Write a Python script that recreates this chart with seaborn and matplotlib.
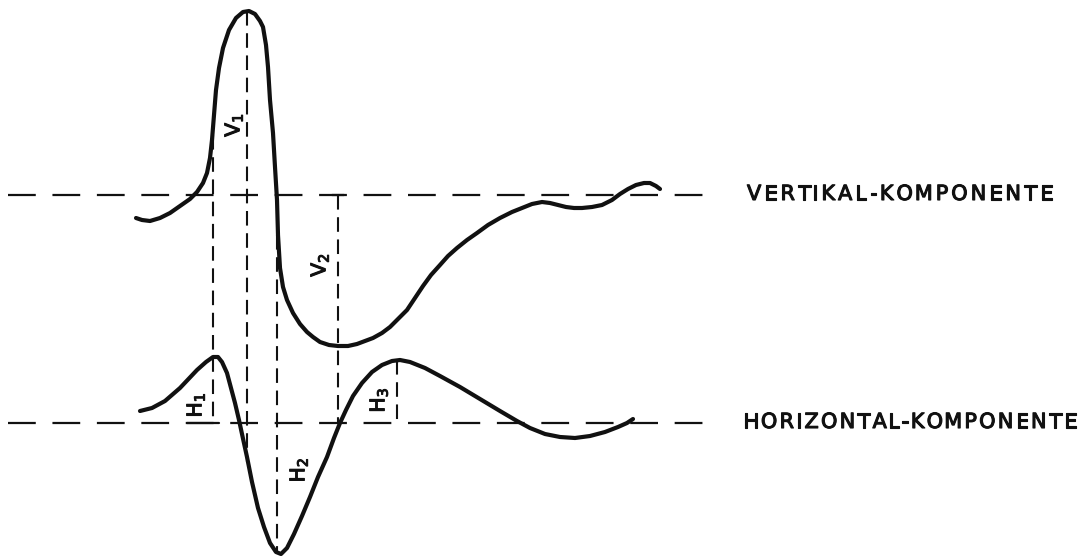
import matplotlib
matplotlib.use("Agg")
import matplotlib.pyplot as plt
import matplotlib.patheffects as pe
from matplotlib.font_manager import FontProperties
import pandas as pd
import seaborn as sns

# Vertical component trace (x, y in drawing units, y grows downward)
vert_x = [136, 142, 150, 160, 170, 180, 190, 197, 203, 207, 210, 212, 214, 216, 219, 223,
          229, 236, 243, 249, 255, 260, 263, 266, 268, 270, 273, 275, 277, 278, 280, 283,
          287, 293, 300, 307, 313, 320, 329, 338, 348, 357, 365, 373, 382, 390, 398, 407,
          415, 423, 431, 440, 448, 457, 467, 477, 488, 500, 512, 522, 532, 542, 550, 558,
          566, 574, 582, 592, 602, 612, 620, 628, 636, 644, 650, 656, 660]
vert_y = [218, 220, 221, 218, 213, 206, 199, 192, 183, 173, 158, 140, 115, 90, 68, 48,
          30, 18, 12, 11, 14, 21, 27, 45, 67, 100, 133, 167, 200, 235, 268, 287,
          300, 313, 324, 332, 337, 342, 345, 346, 346, 344, 341, 338, 333, 327, 319, 310,
          298, 286, 275, 265, 256, 248, 240, 233, 225, 218, 212, 208, 204, 202, 203, 205,
          207, 208, 208, 207, 205, 200, 194, 189, 185, 183, 183, 186, 189]

# Horizontal component trace
horiz_x = [140, 152, 165, 180, 197, 206, 213, 218, 222, 227, 231, 235, 239, 242, 247, 252,
           258, 264, 270, 276, 281, 287, 294, 302, 310, 318, 327, 334, 340, 346, 353, 362,
           372, 382, 392, 400, 410, 425, 440, 460, 480, 500, 517, 530, 545, 560, 575, 590,
           605, 618, 627, 633]
horiz_y = [411, 408, 401, 388, 370, 362, 357, 357, 362, 373, 388, 403, 420, 434, 457, 482,
           508, 527, 543, 552, 554, 548, 534, 516, 497, 477, 457, 438, 423, 410, 396, 383,
           372, 365, 361, 360, 362, 368, 376, 387, 399, 411, 421, 428, 434, 437, 438, 436,
           432, 427, 423, 419]

# Zero lines of the two components
zero_levels = [195, 423]
zero_starts = [8, 8]
zero_ends = [705, 705]
component_names = ["VERTIKAL-KOMPONENTE", "HORIZONTAL-KOMPONENTE"]
name_left = [747, 743]
name_right = [1053, 1077]

# Amplitude guide lines: x, top, bottom
guide_x = [213, 247, 277, 338, 397]
guide_top = [135, 11, 235, 195, 360]
guide_bottom = [423, 462, 553, 423, 423]

# Amplitude labels
amp_labels = [r"$\mathregular{V_1}$", r"$\mathregular{V_2}$",
              r"$\mathregular{H_1}$", r"$\mathregular{H_2}$", r"$\mathregular{H_3}$"]
amp_x = [234, 320, 196, 299, 379]
amp_y = [125, 265, 405, 470, 400]

sns.set_theme(style="white")
plt.rcParams["font.family"] = ["DejaVu Sans"]
plt.rcParams["lines.scale_dashes"] = False

W, H = 1085, 556
fig = plt.figure(figsize=(W / 100, H / 100), dpi=100)
ax = fig.add_axes([0, 0, 1, 1])

ink = "#111111"
thicken = [pe.withStroke(linewidth=0.8, foreground=ink)]

# zero lines
for lvl, x0, x1 in zip(zero_levels, zero_starts, zero_ends):
    ax.plot([x0, x1], [lvl, lvl], color=ink, lw=1.6,
            dashes=(20, 12), solid_capstyle="butt")

# guide lines
for gx, gt, gb in zip(guide_x, guide_top, guide_bottom):
    ax.plot([gx, gx], [gt, gb], color=ink, lw=1.5, dashes=(10.5, 5.5))

# short caps on the guides at the zero lines
ax.plot([guide_x[3] - 6, guide_x[3] + 6], [zero_levels[0]] * 2, color=ink, lw=1.6)
ax.plot([guide_x[0] - 26, guide_x[0] + 6], [zero_levels[1]] * 2, color=ink, lw=1.6)

# component traces
vdf = pd.DataFrame({"x": vert_x, "y": vert_y})
hdf = pd.DataFrame({"x": horiz_x, "y": horiz_y})
for df in (vdf, hdf):
    sns.lineplot(data=df, x="x", y="y", sort=False, estimator=None, ax=ax,
                 color=ink, lw=3.0, solid_capstyle="round", solid_joinstyle="round")
ax.set_xlim(0, W)
ax.set_ylim(H, 0)
ax.axis("off")

for lab, lx, ly in zip(amp_labels, amp_x, amp_y):
    ax.text(lx, ly, lab, rotation=90, ha="center", va="center",
            fontsize=14.5, color=ink, path_effects=thicken)

# component names, spread with letter spacing over their span
renderer = fig.canvas.get_renderer()
prop = FontProperties(family="DejaVu Sans", size=15)


def text_width(s):
    w, _, _ = renderer.get_text_width_height_descent(s, prop, ismath=False)
    return w


for name, x0, x1, lvl in zip(component_names, name_left, name_right, zero_levels):
    gap = ((x1 - x0) - text_width(name)) / (len(name) - 1)
    for i, ch in enumerate(name):
        cx = x0 + text_width(name[:i]) + i * gap if i else x0
        ax.text(cx, lvl - 1, ch, ha="left", va="center", fontproperties=prop,
                color=ink, path_effects=thicken)

fig.savefig("out.png", dpi=100, facecolor="white")
